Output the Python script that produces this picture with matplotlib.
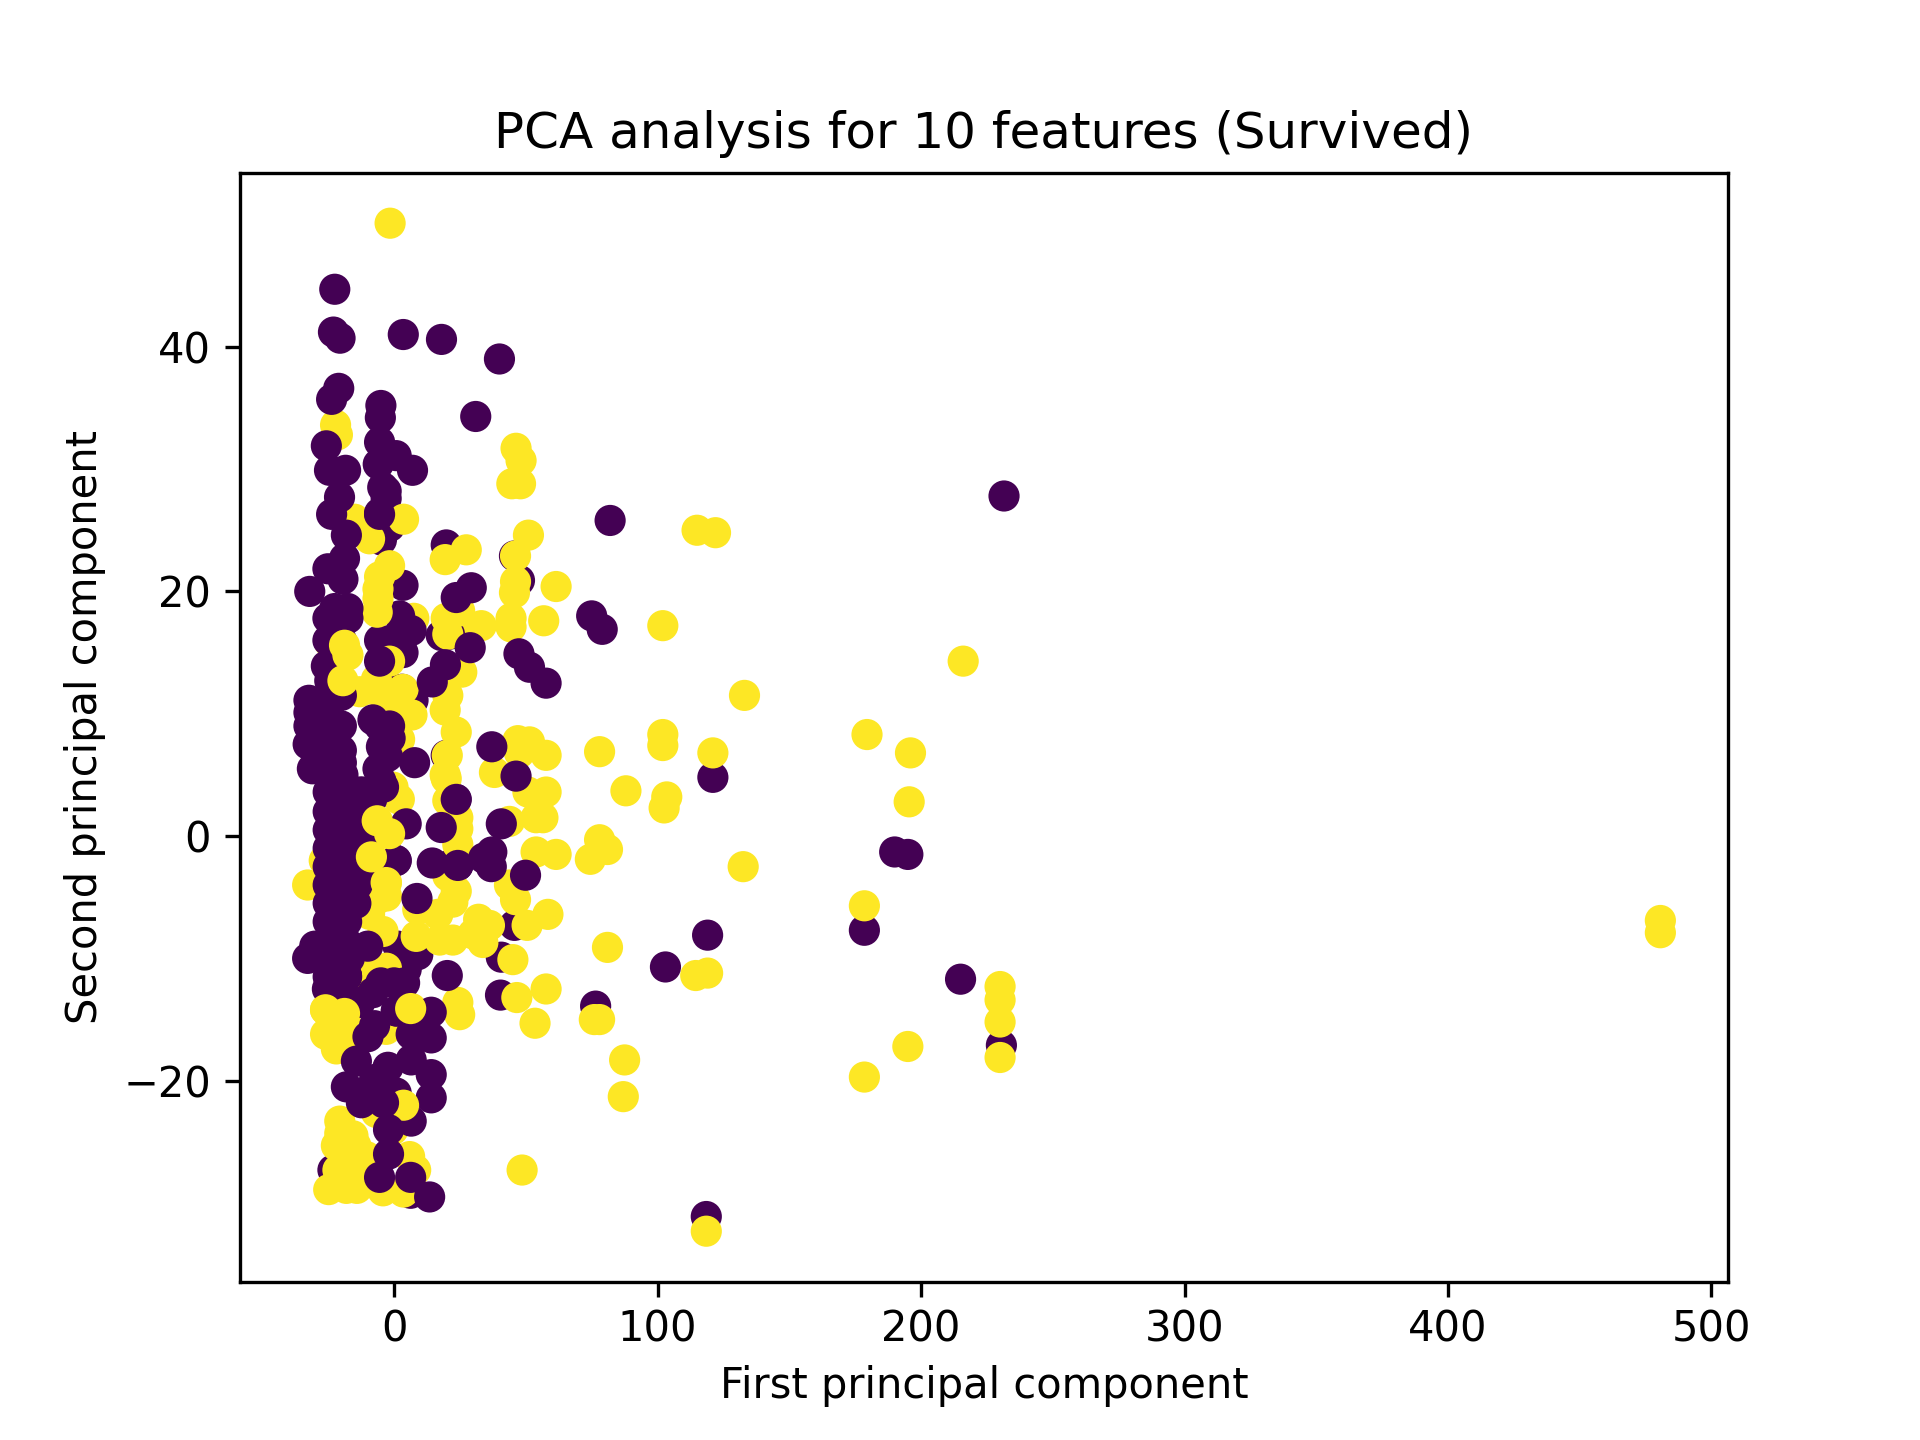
import matplotlib
matplotlib.use('Agg')
import matplotlib.pyplot as plt

# yellow points hidden partly by everything else
low_x = [7.5, -15, 2.1, -24.4, 29, 9, -24.4, -26.5, -25, -18, -14]
low_y = [17.8, 25.9, 7.9, 15.8, 16.8, -6, -11.4, -2, -4, -6.5, -1.5]

# purple points under the main yellow points
back_x = [45.7, 47.6, 19.8, 17.9, 21, 19.8, 230.5, 118.5, 121, 178.5, 76.5, 45.7, 40.7, 40.4, -23.2, 6.3,
          3.4, 2.1, 6.5, 3.4, -5.5, -1.5, -5.5, -3, -1.7, -4.8, 3, 1, 4, 23.5, 21, 24, 24.2,
          1.5, 4.6, 9, -0.4, 7.2, 0.8]
back_y = [22.9, 20.9, 23.8, 16.4, 16.5, 6.6, -17.1, -31.1, 4.8, -7.7, -13.9, -7.3, -9.9, -13, -27.3, -29.2,
          20.5, 18, 16.8, 15, 16, 16, 26.4, 27.6, 25.3, 24.2, 12, 10, 10.5, 3, -2.4, -2.4, -2.4,
          -9, -10.9, -9.7, 11.9, 11.1, -2]

# main yellow points
yel_x = [-1.5, -22.2, -21.5, 46.3, 48.2, 44.7, 48, 51, 46.1, 46.1, 45.7, 44.4, 44.4, 56.8, 61.5,
         3.6, -9.3, -1.7, -5.5, -6.1, -6.1, -6.4, -1.7, 3.4, -8, -6.7, -2.9, 6.8, -13,
         19.4, 27.4, 19.8, 24.9, 33.1, 20.4, 25.7, 20.4, 19.4, 23.6, 20.2, 19.4,
         47, 51.4, 57.7, 38.1, 47.6, -32.8, -6.4, -1.7, -8.6, -2.9, -6.7, -2.9, -9.3, -4.2, 8.4, -6.7, -2.9, -10.5,
         -0.4, 2, 19.8, 20.4, 24.2, 24.2, 24.2, 20.4, 23.6, 22.3, 16.6, 32.1, 33.7, 36.2, 30, 22.3, 17.3, 45.1, 43.8,
         53.9, 61.5, 43.8, 46.1, 50.5, 58.4, 57.7, 46.6, 53.5, 24.2, 24.9, 56.5, 53.9, 57.7, 50.8,
         -26, -18.8, -26, -21.9, -13, -3, 6.6, -6.7, -0.4, -20.6, -15.6, -21.9, -20.6, -14.5, 5.9, 8.2, -21.3, -16,
         -10.5, -24.8, -18.1, -14.1, -13, -4.2, 48.6, -17, -11, -21,
         122, 115, 102, 102, 102, 103.5, 102.5, 88, 81, 87.5, 87, 78, 78, 81, 74.5, 78, 76,
         179.5, 178.5, 178.5, 133, 132.5, 121, 119, 114.5, 118.5, 196, 195.5, 195, 216, 480.6, 480.6, 230, 230, 230, 230]
yel_y = [50.1, 33.6, 32.8, 31.7, 30.7, 28.8, 28.8, 24.6, 22.9, 20.8, 19.9, 17.8, 17.1, 17.6, 20.4,
         25.9, 24.3, 22.1, 21.2, 20.2, 19.4, 18.3, 14.3, 12, 12, 12.8, 10.8, 9.9, 11.8,
         22.6, 23.4, 17.8, 18.4, 17.2, 16.5, 13.4, 11.5, 10.3, 8.5, 6.6, 5,
         7.8, 7.7, 6.6, 5.2, 6.8, -4, 1.25, 0.2, -1.7, -3.8, -5.2, -4.9, -6.4, -7.8, -8.2, -10.8, -10.8, -11,
         4, 3, 4.7, 2.9, 1.5, -0.7, 0.6, -3.25, -4.5, -5.4, -6.4, -6.8, -8.7, -7.3, -8, -8.5, -8.5, -10.1, 1.2,
         -1.3, -1.5, -4, -5.2, -7.3, -6.4, -12.5, -13.2, -15.3, -13.6, -14.6, 1.5, 1.5, 3.6, 3.6,
         -14.2, -14.5, -16.2, -17.4, -16.6, -15.8, -14.1, -22.6, -24, -23.3, -24.5, -25.3, -24.3, -25.3, -26.2, -27.3, -27.3, -26.5,
         -26.2, -28.9, -28.8, -28.8, -27.5, -29, -27.3, -15.8, -12.3, -8.8,
         24.8, 25, 17.2, 8.3, 7.4, 3.2, 2.3, 3.7, -9.1, -18.3, -21.3, 6.9, -0.3, -1.1, -1.9, -15, -15,
         8.3, -5.7, -19.7, 11.5, -2.5, 6.8, -11.2, -11.4, -32.3, 6.8, 2.8, -17.2, 14.3, -6.9, -7.9, -12.3, -13.4, -15.2, -18.1]

# purple points drawn over the yellow: top of the plot and right side
top_x = [-22.5, -23, -20.5, -21, -23.7, -5, -5.2, -5.5, 0.8, -6, 7, -4.3, -3, -5.5, -25.7, -24.5, -18.4, -20.7, -23.7,
         3.5, 18, 40, 31, 29.3, 23.6, 28.9, 19.5, 14.5, 47.4, 51.4, 57.7, 37.1, 46.3, 7.8, 4.6, 23.6, 17.9, 40.7, 0.8, 14.5, 24.2, 34, 37.1, 36.9, 49.9,
         8.7, -32.8, -30.1, 20.2, 82, 75, 79, 119, 103, 190, 195, 215, 231.5]
top_y = [44.7, 41.2, 40.7, 36.6, 35.7, 35.2, 34.2, 32.2, 31.1, 30.4, 29.9, 28.5, 28.2, 26.3, 31.9, 29.9, 29.9, 27.7, 26.3,
         41, 40.6, 39, 34.3, 20.3, 19.5, 15.4, 14, 12.6, 14.9, 13.8, 12.5, 7.3, 4.9, 6, 1, 3, 0.7, 1, -2, -2.2, -2.4, -1.8, -1.3, -2.5, -3.2,
         -5.1, -10, -9, -11.4, 25.8, 18, 16.9, -8.1, -10.7, -1.3, -1.5, -11.7, 27.8]

# dense purple column over the yellow
col_x = [-18.1, -18.8, -25.1, -19.4, -32, -22.5, -17.5, -25.1, -17.5, -25.1, -20, -25.7, -24.4, -19.5, -24, -20,
         -32.3, -32.3, -32.3, -32.6, -28, -24, -20, -28, -24, -20, -28, -24, -20,
         -31, -27, -23, -19.4, -5.5, -1.7, -4.8, -6.1, -5.5, -1.5, -2.5, -8, -4,
         -25, -21, -17, -13, -11.8, -8.5, -25, -21, -17, -13, -10, -25, -21, -17, -13, -10, -5,
         -25, -21, -17, -13, -11, -25, -21, -17, -13, -11.8, -25, -21, -17, -14, -25, -21, -18, -14.5,
         -25, -21, -18, -25, -21, -18, -25, -21, -17, -25, -22, -18, -25.3, -22, -18.1,
         -24.4, -18.1, -25, -21, -13, -8, -5, 1, 0, 4, -10,
         -7.4, -9.9, 0.8, 6.5, 14.1, 14.1, 6.5, -14.3, -2.3, 14.1, -18.1, 14.1, -7.4, 0.8, -12.4, 6.5]
col_y = [24.6, 22.7, 21.85, 21, 20, 18.6, 18.6, 17.8, 17.8, 16, 16, 13.9, 12.7, 15, 11, 11.5,
         11.1, 10.1, 9, 7.5, 11, 11, 9, 9, 9, 7, 7, 7, 6,
         5.5, 5.5, 5.5, 5, 9, 9, 7.3, 5.5, 14.3, 8, 6.5, 9.5, 4,
         3.6, 3.6, 3.6, 3.6, 3.6, 3, 2, 2, 2, 2, 1.5, 0.5, 0.5, 0.5, 0.5, -0.2, 4.5,
         -1, -1, -1, -1, -0.5, -2.5, -2.5, -2.5, -2.5, -2.5, -4, -4, -4, -4, -5.5, -5.5, -5.5, -5.5,
         -7, -7, -7, -8.5, -8.5, -8.7, -10, -10, -10, -11.5, -11.5, -11.5, -12.5, -12.5, -11.4,
         -10.1, -11.4, -12.5, -13, -13.6, -12.8, -12, -14.3, -12, -12, -9,
         -15.5, -16.4, -14.3, -16.2, -14.4, -16.5, -18.3, -18.4, -18.9, -19.5, -20.5, -21.4, -19.9, -21, -21.8, -23.3]

# yellow points over the column
over_x = [-18.8, -19.4, -17.5, -6.4, -1.7, -3, -8.6, -26, -18.8, 6.3, 3.6, 3.6]
over_y = [15.6, 12.7, 14.8, 1.25, 0.2, -3.8, -1.7, -14.2, -14.5, -14.1, -22, -29.1]

# last purple points, on top of everything
last_x = [-4, -2.1, -2.1, -5.5, 6.3, 13.5]
last_y = [-21.8, -24, -26, -27.9, -27.9, -29.5]

pc1 = low_x + back_x + yel_x + top_x + col_x + over_x + last_x
pc2 = low_y + back_y + yel_y + top_y + col_y + over_y + last_y
survived = ([1] * len(low_x) + [0] * len(back_x) + [1] * len(yel_x) + [0] * len(top_x)
            + [0] * len(col_x) + [1] * len(over_x) + [0] * len(last_x))

plt.figure(figsize=(6.4, 4.8))
plt.scatter(pc1, pc2, c=survived, s=42)
plt.xlabel('First principal component', labelpad=3.5)
plt.ylabel('Second principal component')
plt.title('PCA analysis for 10 features (Survived)')
plt.tick_params(axis='x', pad=3)
plt.savefig('out.png', dpi=300)
